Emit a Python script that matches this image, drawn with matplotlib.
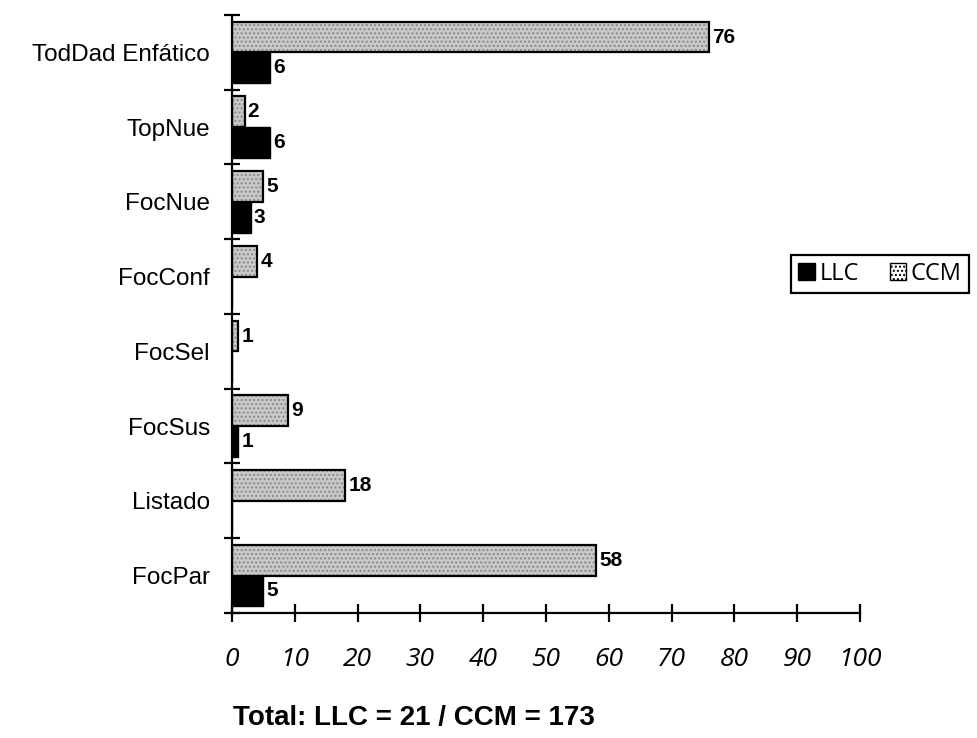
import matplotlib
matplotlib.use("Agg")
import matplotlib.pyplot as plt
import numpy as np
from matplotlib.patches import Patch

categories = ["TodDad Enfático", "TopNue", "FocNue", "FocConf",
              "FocSel", "FocSus", "Listado", "FocPar"]
ccm = [76, 2, 5, 4, 1, 9, 18, 58]
llc = [6, 6, 3, 0, 0, 1, 0, 5]
xticks = [0, 10, 20, 30, 40, 50, 60, 70, 80, 90, 100]
title = "Total: LLC = 21 / CCM = 173"

fig = plt.figure(figsize=(9.78, 7.38), dpi=100)
ax = fig.add_axes([0.2372, 0.1694, 0.6421, 0.8103])

y = np.arange(len(categories))
h = 0.41

# CCM: speckled light gray with black outline
ax.barh(y - h / 2, ccm, height=h, color="#c9c9c9", edgecolor="#8a8a8a",
        hatch="....", linewidth=0, zorder=2)
ax.barh(y - h / 2, ccm, height=h, fill=False, edgecolor="black",
        linewidth=1.6, zorder=3)
# LLC: solid black
ax.barh(y + h / 2, llc, height=h, color="black", edgecolor="black",
        linewidth=1.0, zorder=3)

for yi, v in zip(y, ccm):
    ax.text(v + 0.5, yi - h / 2, str(v), ha="left", va="center",
            fontsize=15, fontweight="bold", family="Liberation Sans")
for yi, v in zip(y, llc):
    if v > 0:
        ax.text(v + 0.5, yi + h / 2, str(v), ha="left", va="center",
                fontsize=15, fontweight="bold", family="Liberation Sans")

ax.set_xlim(0, 100)
ax.set_ylim(len(categories) - 0.5, -0.5)

for s in ["top", "right"]:
    ax.spines[s].set_visible(False)
ax.spines["left"].set_linewidth(1.6)
ax.spines["bottom"].set_linewidth(1.6)

ax.set_xticks(xticks)
ax.set_xticklabels([str(t) for t in xticks], fontsize=19, style="italic",
                   family="Open Sans")
ax.tick_params(axis="x", direction="inout", length=13, width=1.6, pad=18)

ax.set_yticks(y)
ax.set_yticklabels(categories, fontsize=17.5, family="Liberation Sans")
ax.set_yticks(np.arange(len(categories) + 1) - 0.5, minor=True)
ax.tick_params(axis="y", which="major", length=0, pad=16)
ax.tick_params(axis="y", which="minor", direction="inout", length=12, width=1.6)

handles = [Patch(facecolor="black", edgecolor="black", label="LLC"),
           Patch(facecolor="white", edgecolor="black", hatch="....", label="CCM")]
leg = fig.legend(handles=handles, loc="center left", ncol=2,
                 bbox_to_anchor=(0.797, 0.629), frameon=True, fancybox=False,
                 edgecolor="black", framealpha=1, handlelength=0.7,
                 handleheight=0.7, handletextpad=0.2, columnspacing=1.3,
                 borderpad=0.3, prop={"family": "Open Sans", "size": 17})
leg.get_frame().set_linewidth(1.6)

fig.text(0.238, 0.027, title, ha="left", va="center", fontsize=20,
         fontweight="bold", family="Liberation Sans")

fig.savefig("out.png", dpi=100)
